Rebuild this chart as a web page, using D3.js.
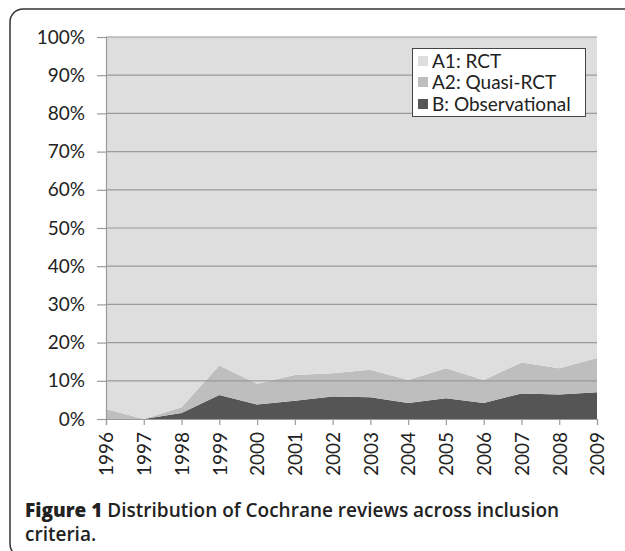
<!DOCTYPE html>
<html>
<head>
<meta charset="utf-8">
<script src="https://cdn.jsdelivr.net/npm/d3@7.9.0/dist/d3.min.js"></script>
<style>
  body { margin: 0; background: #fff; }
  svg { display: block; font-family: Lato, "Liberation Sans", sans-serif; }
</style>
</head>
<body>
<svg width="625" height="551"></svg>
<script>
// years on the x axis
const years = [1996, 1997, 1998, 1999, 2000, 2001, 2002, 2003, 2004, 2005, 2006, 2007, 2008, 2009];
// percentages
const observational = [0, 0, 1.6, 6.3, 3.8, 4.8, 5.9, 5.7, 4.2, 5.4, 4.2, 6.7, 6.4, 7.0];
const quasiRct = [2.6, 0, 1.5, 7.7, 5.4, 6.7, 6.1, 7.2, 6.0, 7.9, 6.0, 8.1, 6.9, 9.0];
const yTicks = [0, 10, 20, 30, 40, 50, 60, 70, 80, 90, 100];
const legendLabels = ['A1: RCT', 'A2: Quasi-RCT', 'B: Observational'];

const colors = { A1: '#dedede', A2: '#bebebe', B: '#555555' };

let rows = years.map((y, i) => ({
  year: y,
  B: observational[i],
  A2: quasiRct[i],
  A1: 100 - observational[i] - quasiRct[i]
}));

let svg = d3.select('svg');

// frame round the figure
svg.append('rect')
  .attr('x', 10).attr('y', 9)
  .attr('width', 640).attr('height', 548)
  .attr('rx', 13)
  .attr('fill', 'none')
  .attr('stroke', '#333')
  .attr('stroke-width', 1.5);

let x = d3.scaleLinear().domain([1996, 2009]).range([106, 597]);
let y = d3.scaleLinear().domain([0, 100]).range([419, 37]);

let stack = d3.stack().keys(['B', 'A2', 'A1']);
let series = stack(rows);

let area = d3.area()
  .x(d => x(d.data.year))
  .y0(d => y(d[0]))
  .y1(d => y(d[1]));

svg.append('g')
  .selectAll('path')
  .data(series)
  .join('path')
  .attr('d', area)
  .attr('fill', d => colors[d.key]);

// gridlines drawn over the areas
svg.append('g')
  .selectAll('line')
  .data(yTicks.filter(t => t > 0))
  .join('line')
  .attr('x1', 106).attr('x2', 597)
  .attr('y1', d => y(d)).attr('y2', d => y(d))
  .attr('stroke', '#9a9a9a')
  .attr('stroke-width', 1.2);

// y axis
let yAxis = d3.axisLeft(y)
  .tickValues(yTicks)
  .tickSize(9)
  .tickPadding(12)
  .tickFormat(d => d + '%');
let yg = svg.append('g').attr('transform', 'translate(106,0)').call(yAxis);
yg.select('.domain').attr('stroke', '#9a9a9a').attr('stroke-width', 1.2);
yg.selectAll('.tick line').attr('stroke', '#9a9a9a').attr('stroke-width', 1.2);
yg.selectAll('text').attr('font-size', 19).attr('fill', '#222').attr('font-family', 'Lato, sans-serif');

// x axis
let xAxis = d3.axisBottom(x)
  .tickValues(years)
  .tickSize(6)
  .tickFormat(d3.format('d'));
let xg = svg.append('g').attr('transform', 'translate(0,419)').call(xAxis);
xg.select('.domain').attr('stroke', '#9a9a9a').attr('stroke-width', 1.2);
xg.selectAll('.tick line').attr('stroke', '#9a9a9a').attr('stroke-width', 1.2);
xg.selectAll('text')
  .attr('font-size', 19)
  .attr('fill', '#222')
  .attr('font-family', 'Lato, sans-serif')
  .attr('text-anchor', 'end')
  .attr('x', -13)
  .attr('y', 0)
  .attr('dy', '0.36em')
  .attr('transform', 'rotate(-90)');

// legend
let legend = svg.append('g');
legend.append('rect')
  .attr('x', 412.5).attr('y', 48.5)
  .attr('width', 173).attr('height', 68)
  .attr('fill', '#fff')
  .attr('stroke', '#444')
  .attr('stroke-width', 1);

let legendKeys = ['A1', 'A2', 'B'];
let legendY = [61, 82, 104];
legendKeys.forEach((k, i) => {
  legend.append('rect')
    .attr('x', 418).attr('y', legendY[i] - 5)
    .attr('width', 10).attr('height', 10)
    .attr('fill', colors[k]);
  legend.append('text')
    .attr('x', 432).attr('y', legendY[i])
    .attr('dy', '0.35em')
    .attr('font-size', 19)
    .attr('fill', '#222')
    .text(legendLabels[i]);
});

// caption
let cap = svg.append('text')
  .attr('x', 25).attr('y', 517)
  .attr('font-size', 19)
  .attr('fill', '#222')
  .attr('font-family', '"Open Sans", sans-serif')
  .attr('font-weight', 600);
cap.append('tspan').attr('font-weight', 800).text('Figure 1');
cap.append('tspan').text(' Distribution of Cochrane reviews across inclusion');
svg.append('text')
  .attr('x', 25).attr('y', 541)
  .attr('font-size', 19)
  .attr('fill', '#222')
  .attr('font-family', '"Open Sans", sans-serif')
  .attr('font-weight', 600)
  .text('criteria.');
</script>
</body>
</html>
